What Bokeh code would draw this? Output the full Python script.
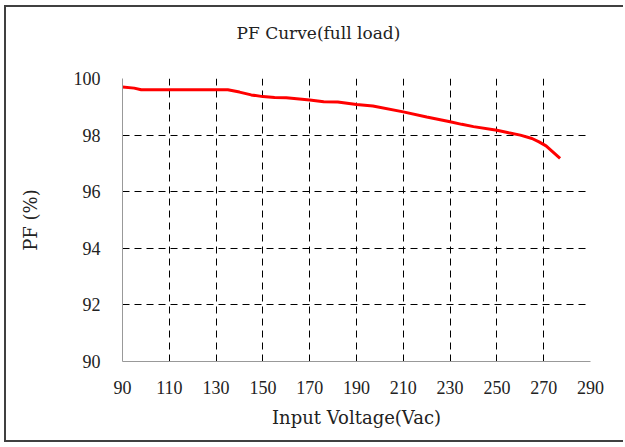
from bokeh.plotting import figure
from bokeh.models import FixedTicker, Title
from bokeh.embed import file_html
from bokeh.resources import INLINE

voltage = [90, 95, 98, 110, 125, 135, 140, 145, 150, 155, 160, 170, 176, 182, 190, 197, 210, 220, 230, 235, 240, 250, 255, 260, 265, 268, 271, 277]
pf = [99.70, 99.66, 99.60, 99.60, 99.60, 99.60, 99.52, 99.42, 99.36, 99.33, 99.32, 99.24, 99.18, 99.17, 99.08, 99.03, 98.82, 98.64, 98.47, 98.38, 98.30, 98.17, 98.08, 98.00, 97.88, 97.76, 97.62, 97.18]

x_ticks = [90, 110, 130, 150, 170, 190, 210, 230, 250, 270, 290]
y_ticks = [90, 92, 94, 96, 98, 100]

title_text = "PF Curve(full load)"
x_label = "Input Voltage(Vac)"
y_label = "PF (%)"

TICK_FONT = "Liberation Serif"
LABEL_FONT = "DejaVu Serif"

# canvas starts at page (6, 7) because of margin + 2px border
p = figure(width=619, height=437, output_backend="svg", toolbar_location=None,
           x_range=(90, 290), y_range=(90, 100),
           min_border_left=116, min_border_right=35, min_border_top=71, min_border_bottom=83)
p.outline_line_color = None
p.background_fill_color = "white"
p.border_fill_color = "white"
p.styles = {"margin-left": "4px", "margin-top": "5px",
            "border-left": "2px solid #404040", "border-top": "2px solid #404040",
            "border-bottom": "2px solid #404040"}

p.title.text = ""
# empty spacer title next to the frame pushes the real title upwards
spacer = Title(text=" ", text_font=LABEL_FONT, text_font_size="17px", standoff=12)
p.add_layout(spacer, "above")
main_title = Title(text=title_text, align="left", offset=114, vertical_align="top", standoff=0,
                   text_font=LABEL_FONT, text_font_size="17px", text_font_style="normal",
                   text_color="#222222")
p.add_layout(main_title, "above")

p.line(voltage, pf, line_color="red", line_width=3)

for ax in (p.xaxis[0], p.yaxis[0]):
    ax.axis_line_color = "#999999"
    ax.axis_line_width = 1
    ax.major_tick_in = 0
    ax.major_tick_out = 0
    ax.minor_tick_in = 0
    ax.minor_tick_out = 0
    ax.major_label_text_font = TICK_FONT
    ax.major_label_text_font_size = "18px"
    ax.major_label_text_color = "#222222"
    ax.axis_label_text_font = LABEL_FONT
    ax.axis_label_text_font_style = "normal"
    ax.axis_label_text_color = "#222222"
    ax.axis_label_text_font_size = "18px"

p.xaxis.ticker = FixedTicker(ticks=x_ticks)
p.yaxis.ticker = FixedTicker(ticks=y_ticks)
p.xaxis.axis_label = x_label
p.yaxis.axis_label = y_label
p.xaxis.major_label_standoff = 19
p.yaxis.major_label_standoff = 22
p.xaxis.axis_label_standoff = 10
p.yaxis.axis_label_standoff = 30

for g in (p.xgrid[0], p.ygrid[0]):
    g.grid_line_color = "black"
    g.grid_line_dash = "7 5"
    g.grid_line_width = 1
p.xgrid.ticker = FixedTicker(ticks=x_ticks[1:])
p.ygrid.ticker = FixedTicker(ticks=y_ticks[1:])

open("out.html", "w").write(file_html(p, INLINE))
